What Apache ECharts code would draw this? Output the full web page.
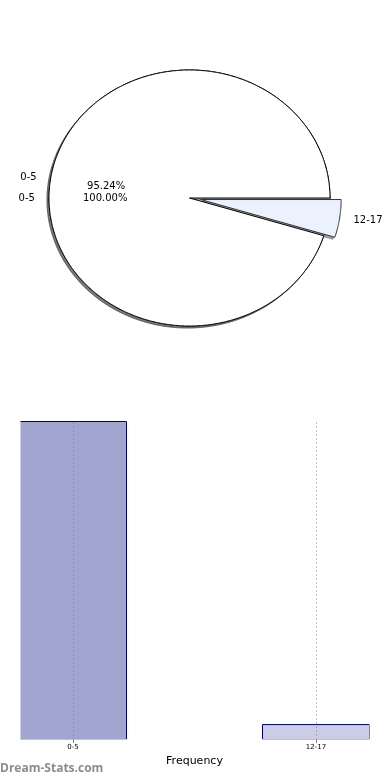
<!DOCTYPE html>
<html>
<head>
<meta charset="utf-8">
<script src="https://cdn.jsdelivr.net/npm/echarts@6/dist/echarts.min.js"></script>
<style>
  html, body { margin: 0; padding: 0; background: #ffffff; }
  #chart { width: 390px; height: 780px; }
</style>
</head>
<body>
<div id="chart"></div>
<script>
// ---- data ----
const pieCategories = ['0-5', '12-17'];
const pieValues = [20, 1];
const pieExplode = [0, 0.08];
const backPieCategories = ['0-5'];
const backPieValues = [20];
const barCategories = ['0-5', '12-17'];
const barValues = [20, 1];
const barTickValues = [0, 1];

// ---- styles ----
const pieFills = ['#ffffff', '#ebf2fe'];
const pieEdges = ['#000000', '#333333'];
const backFills = ['#ffffff'];
const backEdges = ['#000000'];
const barColors = ['#a3a5d1', '#cbcce6'];
const textFont = '10px "DejaVu Sans"';

function pieRenderer(values, labels, fills, edges, explode, mode) {
  const total = values.reduce((a, b) => a + b, 0);
  return function (params, api) {
    const i = params.dataIndex;
    let start = 0;
    for (let k = 0; k < i; k++) start += values[k] / total * 360;
    const frac = values[i] / total;
    const end = start + frac * 360;
    const mid = (start + end) / 2 * Math.PI / 180;
    const ex = explode ? explode[i] : 0;
    const cx = ex * Math.cos(mid), cy = ex * Math.sin(mid);

    if (mode === 'label') {
      const children = [];
      const lx = cx + 1.1 * Math.cos(mid), ly = cy + 1.1 * Math.sin(mid);
      const lp = api.coord([lx, ly]);
      children.push({
        type: 'text',
        style: {
          text: labels[i], x: lp[0], y: lp[1], fill: '#000', font: textFont,
          align: lx > 0 ? 'left' : 'right', verticalAlign: 'middle'
        }
      });
      if (frac >= 0.05) {
        const pp = api.coord([cx + 0.6 * Math.cos(mid), cy + 0.6 * Math.sin(mid)]);
        children.push({
          type: 'text',
          style: {
            text: (frac * 100).toFixed(2) + '%', x: pp[0], y: pp[1], fill: '#000', font: textFont,
            align: 'center', verticalAlign: 'middle'
          }
        });
      }
      return { type: 'group', children: children };
    }

    const full = frac >= 0.999999;
    const pts = full ? [] : [api.coord([cx, cy])];
    const n = Math.max(4, Math.ceil((end - start) * 2));
    for (let s = 0; s <= n; s++) {
      const a = (start + (end - start) * s / n) * Math.PI / 180;
      pts.push(api.coord([cx + Math.cos(a), cy + Math.sin(a)]));
    }
    if (mode === 'shadow') {
      const c = echarts.color.parse(fills[i]);
      const sc = 'rgba(' + Math.round(c[0] * 0.3) + ',' + Math.round(c[1] * 0.3) + ',' + Math.round(c[2] * 0.3) + ',0.5)';
      return {
        type: 'polygon',
        shape: { points: pts.map(p => [p[0] - 2, p[1] + 2]) },
        style: { fill: sc, stroke: sc, lineWidth: 1 }
      };
    }
    return {
      type: 'polygon',
      shape: { points: pts },
      style: { fill: fills[i], stroke: edges[i], lineWidth: 1 }
    };
  };
}

const chart = echarts.init(document.getElementById('chart'), null, { renderer: 'canvas' });

function pieSeries(values, labels, fills, edges, explode, mode) {
  return {
    type: 'custom', xAxisIndex: 0, yAxisIndex: 0, silent: true,
    renderItem: pieRenderer(values, labels, fills, edges, explode, mode),
    data: values.map((v, i) => [i, v])
  };
}

const option = {
  backgroundColor: '#ffffff',
  animation: false,
  grid: [
    { left: 49, top: 70, width: 281, height: 256 },
    { left: 19, top: 421, width: 351, height: 319 }
  ],
  xAxis: [
    { gridIndex: 0, type: 'value', min: -1, max: 1, show: false },
    {
      gridIndex: 1, type: 'value', min: -0.2222, max: 1.2222, z: 10,
      axisLine: { show: false },
      splitLine: { show: false },
      axisTick: { show: true, customValues: barTickValues, length: 3, lineStyle: { color: 'rgba(100,100,100,0.8)' } },
      axisLabel: {
        customValues: barTickValues,
        formatter: v => (Number.isInteger(v) && barCategories[v] !== undefined) ? barCategories[v] : '',
        fontSize: 7, color: '#000', fontFamily: 'DejaVu Sans', margin: 4
      },
      name: 'Frequency', nameLocation: 'middle', nameGap: 16,
      nameTextStyle: { fontSize: 11, color: '#000', fontFamily: 'DejaVu Sans' }
    }
  ],
  yAxis: [
    { gridIndex: 0, type: 'value', min: -1, max: 1, show: false },
    { gridIndex: 1, type: 'value', min: 0, max: 20, show: false }
  ],
  graphic: [
    { type: 'rect', z: 5, silent: true, shape: { x: 0, y: 410, width: 20.5, height: 340 }, style: { fill: '#ffffff' } },
    { type: 'rect', z: 5, silent: true, shape: { x: 369.5, y: 410, width: 21, height: 340 }, style: { fill: '#ffffff' } },
    { type: 'rect', z: 5, silent: true, shape: { x: 0, y: 739.2, width: 390, height: 3 }, style: { fill: '#ffffff' } },
    {
      type: 'text', left: 0, top: 763, z: 6,
      style: { text: 'Dream-Stats.com', font: 'bold 12px "Open Sans"', fill: '#8c8c8c' }
    }
  ],
  series: [
    pieSeries(backPieValues, backPieCategories, backFills, backEdges, null, 'shadow'),
    pieSeries(backPieValues, backPieCategories, backFills, backEdges, null, 'wedge'),
    pieSeries(pieValues, pieCategories, pieFills, pieEdges, pieExplode, 'shadow'),
    pieSeries(pieValues, pieCategories, pieFills, pieEdges, pieExplode, 'wedge'),
    pieSeries(backPieValues, backPieCategories, backFills, backEdges, null, 'label'),
    pieSeries(pieValues, pieCategories, pieFills, pieEdges, pieExplode, 'label'),
    {
      type: 'bar', xAxisIndex: 1, yAxisIndex: 1, barWidth: 108, clip: false, silent: true,
      itemStyle: { borderColor: '#000080', borderWidth: 1 },
      data: barValues.map((v, i) => ({ value: [i, v], itemStyle: { color: barColors[i] } })),
      markLine: {
        silent: true, symbol: 'none',
        label: { show: false },
        lineStyle: { type: [2, 2], color: 'rgba(128,128,128,0.5)', width: 1 },
        data: barTickValues.map(v => ({ xAxis: v }))
      }
    }
  ]
};

chart.setOption(option);
</script>
</body>
</html>
